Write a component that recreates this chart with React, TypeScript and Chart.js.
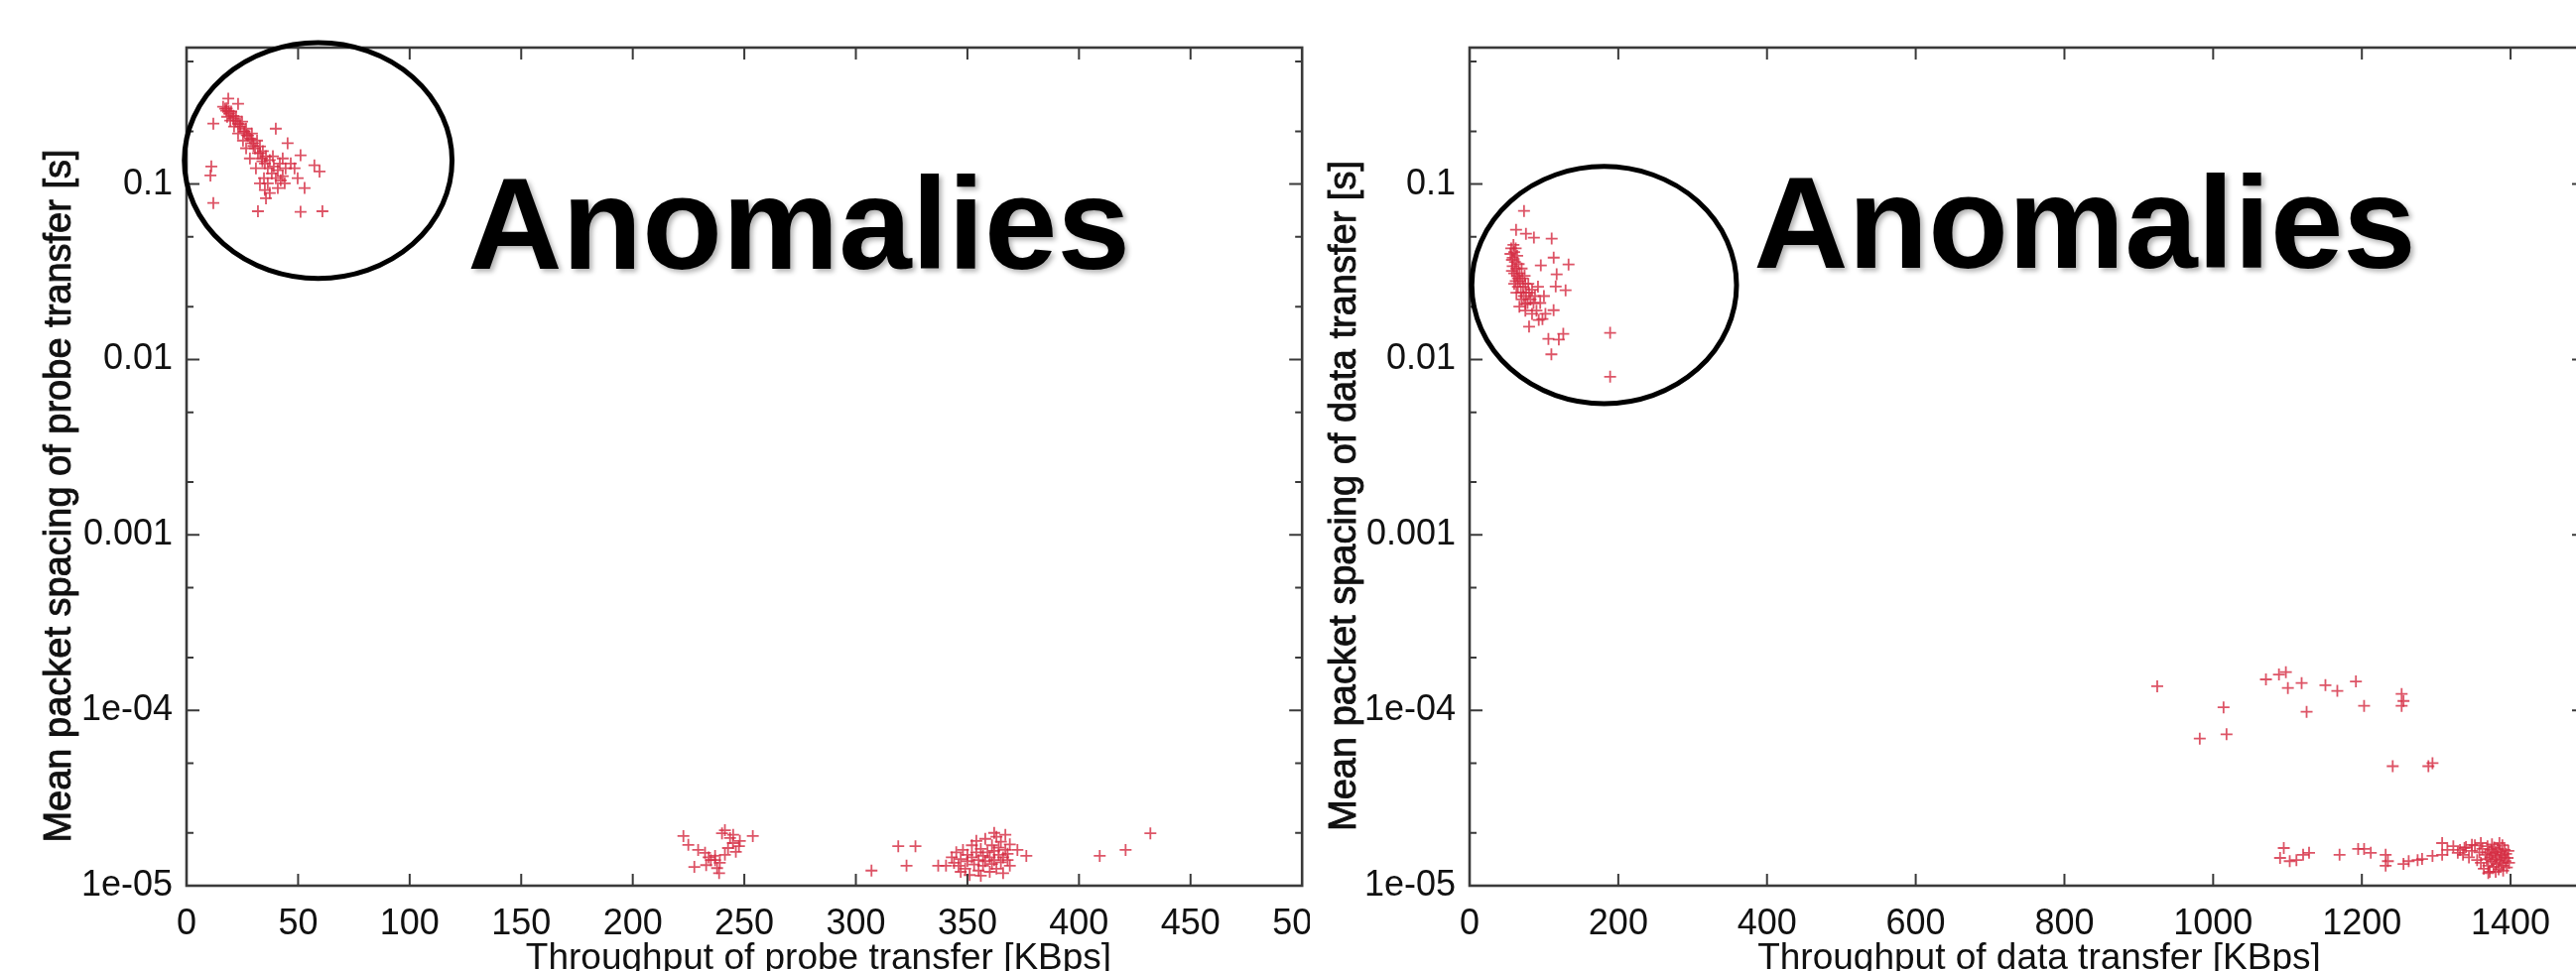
import React, { useEffect, useRef } from 'react';
import { Chart, registerables } from 'chart.js';

Chart.register(...registerables);

const FONT = '"Liberation Sans", Arial, Helvetica, sans-serif';

// ---------- tick values / labels ----------
const probeXTicks = [0, 50, 100, 150, 200, 250, 300, 350, 400, 450, 500];
const dataXTicks = [0, 200, 400, 600, 800, 1000, 1200, 1400];
const yMajorTicks = [1e-5, 1e-4, 1e-3, 1e-2, 1e-1];
const yTickLabels = ['1e-05', '1e-04', '0.001', '0.01', '0.1'];
const yMinorTicks = [2e-5, 5e-5, 2e-4, 5e-4, 2e-3, 5e-3, 0.02, 0.05, 0.2, 0.5];

// ---------- probe transfer (left) ----------
const probeAnomalies: [number, number][] = [
  [18.7, 0.307], [23.1, 0.287], [12, 0.221], [17.3, 0.269], [40, 0.207], [45.3, 0.171], [51.1, 0.146],
  [57.3, 0.128], [59.6, 0.118], [11.1, 0.126], [10.7, 0.112], [12, 0.078], [32, 0.07], [51.1, 0.0695],
  [60.9, 0.07], [35.1, 0.0925], [42.2, 0.105], [49.8, 0.108], [52.9, 0.095],
  [16.4, 0.276], [17.8, 0.262], [19.1, 0.252], [20, 0.259], [20.9, 0.236], [22.2, 0.242], [23.1, 0.221],
  [24, 0.213], [24.9, 0.227], [25.8, 0.199], [26.7, 0.207], [27.6, 0.189], [28.4, 0.182], [29.3, 0.194],
  [29.8, 0.171], [30.7, 0.16], [31.6, 0.177], [32, 0.15], [32.9, 0.164], [33.8, 0.14], [34.2, 0.154],
  [35.1, 0.131], [35.6, 0.144], [36.4, 0.123], [37.3, 0.137], [38.2, 0.115], [39.1, 0.126], [40, 0.108],
  [40.9, 0.12], [41.8, 0.131], [43.1, 0.111], [44.4, 0.123], [32.9, 0.101], [34.7, 0.108], [36.4, 0.101],
  [31.1, 0.123], [28.4, 0.14], [26.7, 0.16], [25.3, 0.177], [23.1, 0.194], [21.3, 0.213], [19.6, 0.23],
  [18.2, 0.242], [38.7, 0.144], [43.1, 0.14], [46.7, 0.131], [48.4, 0.123], [44, 0.101], [40.9, 0.095],
  [37.3, 0.089], [35.6, 0.083], [18, 0.27], [19, 0.26], [21, 0.245], [22, 0.23], [24, 0.22], [26, 0.2],
  [27, 0.19], [29, 0.18], [30, 0.165], [33, 0.15], [34, 0.135],
];
const probeCluster240: [number, number][] = [
  [222.7, 1.92e-5], [224.9, 1.71e-5], [229.3, 1.6e-5], [232.4, 1.54e-5], [235, 1.4e-5], [236.9, 1.4e-5],
  [227.6, 1.28e-5], [232.9, 1.31e-5], [237.8, 1.26e-5], [238.7, 1.18e-5], [240, 1.99e-5], [241.3, 2.07e-5],
  [243.6, 1.87e-5], [244.9, 1.75e-5], [242.7, 1.64e-5], [247.6, 1.68e-5], [246.2, 1.56e-5], [253.8, 1.92e-5],
  [236.9, 1.48e-5], [241.3, 1.5e-5], [239, 1.35e-5], [234, 1.45e-5], [245, 1.95e-5], [248, 1.8e-5],
];
const probeCluster360: [number, number][] = [
  [307, 1.22e-5], [319, 1.68e-5], [326.7, 1.68e-5], [322.7, 1.3e-5], [336.9, 1.3e-5], [340.4, 1.3e-5],
  [372.4, 1.6e-5], [376.4, 1.48e-5], [409.3, 1.48e-5], [420.9, 1.6e-5], [432, 1.99e-5],
  [343, 1.45e-5], [344, 1.35e-5], [345, 1.55e-5], [346, 1.3e-5], [347, 1.42e-5], [348, 1.6e-5], [349, 1.25e-5],
  [350, 1.5e-5], [350, 1.38e-5], [351, 1.15e-5], [352, 1.45e-5], [352, 1.7e-5], [353, 1.32e-5], [354, 1.55e-5],
  [355, 1.4e-5], [355, 1.22e-5], [356, 1.62e-5], [357, 1.48e-5], [357, 1.3e-5], [358, 1.85e-5], [358, 1.38e-5],
  [359, 1.55e-5], [360, 1.2e-5], [360, 1.45e-5], [361, 1.7e-5], [361, 1.33e-5], [362, 1.58e-5], [362, 1.4e-5],
  [363, 1.9e-5], [363, 1.25e-5], [364, 1.5e-5], [364, 1.65e-5], [365, 1.36e-5], [365, 1.78e-5], [366, 1.45e-5],
  [366, 1.18e-5], [367, 1.6e-5], [367, 1.95e-5], [368, 1.4e-5], [368, 1.52e-5], [369, 1.72e-5], [369, 1.3e-5],
  [354, 1.8e-5], [347, 1.2e-5], [362, 2.0e-5], [356, 1.14e-5],
];

// ---------- data transfer (right) ----------
const dataAnomalies: [number, number][] = [
  [73.2, 0.0703], [62.5, 0.0549], [75.8, 0.0521], [86.5, 0.0495], [110.4, 0.0489], [113.1, 0.0381],
  [133.1, 0.0348], [117.1, 0.0306], [95.8, 0.0344], [115.8, 0.0261], [129.1, 0.0248], [189, 0.0142],
  [189, 0.00798], [80, 0.0154], [106, 0.0131], [120, 0.013], [126, 0.014], [110, 0.0107], [102, 0.0182],
  [93, 0.0168], [113, 0.0191], [84, 0.0182], [75, 0.0207],
  [55, 0.04], [57, 0.037], [58, 0.034], [60, 0.041], [60, 0.031], [61, 0.036], [62, 0.028], [63, 0.033],
  [64, 0.039], [64, 0.03], [65, 0.026], [66, 0.035], [67, 0.031], [68, 0.028], [69, 0.024], [70, 0.033],
  [71, 0.029], [72, 0.026], [73, 0.023], [74, 0.03], [75, 0.027], [76, 0.024], [78, 0.021], [79, 0.027],
  [80, 0.024], [82, 0.022], [84, 0.025], [86, 0.021], [88, 0.023], [56, 0.043], [59, 0.045], [62, 0.043],
  [58, 0.038], [57, 0.032], [60, 0.027], [65, 0.029], [70, 0.022], [63, 0.024], [67, 0.02], [75, 0.019],
  [90, 0.019], [95, 0.021], [100, 0.023], [92, 0.026], [98, 0.017],
];
const dataMid: [number, number][] = [
  [924.8, 1.37e-4], [1071, 1.5e-4], [1088.5, 1.6e-4], [1097.8, 1.65e-4], [1100.5, 1.34e-4], [1119, 1.43e-4],
  [1151, 1.39e-4], [1167, 1.29e-4], [1192, 1.46e-4], [1203, 1.06e-4], [1125.7, 9.8e-5], [1014, 1.04e-4],
  [982, 6.9e-5], [1018, 7.3e-5], [1253.5, 1.24e-4], [1256, 1.13e-4], [1253.5, 1.06e-4], [1241.5, 4.8e-5],
  [1295, 5.0e-5], [1289.5, 4.8e-5],
];
const dataBottom: [number, number][] = [
  [1095, 1.64e-5], [1090, 1.44e-5], [1103, 1.38e-5], [1112, 1.4e-5], [1121, 1.5e-5], [1129, 1.54e-5],
  [1170, 1.5e-5], [1195, 1.62e-5], [1203, 1.62e-5], [1212, 1.54e-5], [1232, 1.5e-5], [1235, 1.38e-5],
  [1232, 1.3e-5], [1256, 1.33e-5], [1263, 1.38e-5], [1275, 1.4e-5], [1281, 1.42e-5], [1295, 1.48e-5],
  [1308, 1.75e-5], [1308, 1.5e-5], [1315, 1.6e-5], [1323, 1.68e-5], [1329, 1.54e-5], [1338, 1.64e-5],
  [1348, 1.71e-5],
  [1332, 1.6e-5], [1336, 1.5e-5], [1340, 1.66e-5], [1344, 1.45e-5], [1348, 1.58e-5], [1352, 1.7e-5],
  [1355, 1.4e-5], [1358, 1.55e-5], [1360, 1.35e-5], [1362, 1.62e-5], [1364, 1.25e-5], [1366, 1.5e-5],
  [1368, 1.42e-5], [1369, 1.68e-5], [1370, 1.3e-5], [1371, 1.55e-5], [1372, 1.2e-5], [1373, 1.45e-5],
  [1374, 1.6e-5], [1375, 1.38e-5], [1376, 1.52e-5], [1377, 1.28e-5], [1378, 1.65e-5], [1379, 1.42e-5],
  [1380, 1.55e-5], [1381, 1.33e-5], [1382, 1.48e-5], [1383, 1.62e-5], [1384, 1.24e-5], [1385, 1.4e-5],
  [1386, 1.56e-5], [1387, 1.35e-5], [1388, 1.5e-5], [1389, 1.7e-5], [1390, 1.3e-5], [1391, 1.45e-5],
  [1392, 1.6e-5], [1393, 1.38e-5], [1394, 1.52e-5], [1395, 1.27e-5], [1396, 1.44e-5], [1397, 1.58e-5],
  [1398, 1.35e-5], [1380, 1.2e-5], [1370, 1.18e-5], [1385, 1.75e-5], [1375, 1.72e-5], [1360, 1.75e-5],
  [1390, 1.22e-5],
];

const MARK_COLOR = 'rgba(214, 46, 68, 0.82)';

const matlabFrame = {
  id: 'matlabFrame',
  afterDraw(chart: any, _args: any, opts: any) {
    const { ctx, chartArea: a, scales } = chart;
    const xs = scales.x;
    const ys = scales.y;
    ctx.save();
    ctx.strokeStyle = '#3a3a3a';
    ctx.lineWidth = 2;
    ctx.beginPath();
    for (const v of opts.xTicks) {
      const px = xs.getPixelForValue(v);
      if (px <= a.left + 2 || px >= a.right - 2) continue;
      ctx.moveTo(px, a.bottom); ctx.lineTo(px, a.bottom - 12);
      ctx.moveTo(px, a.top); ctx.lineTo(px, a.top + 12);
    }
    const yTick = (v: number, len: number) => {
      const py = ys.getPixelForValue(v);
      if (py < a.top + 1 || py > a.bottom - 1) return;
      ctx.moveTo(a.left, py); ctx.lineTo(a.left + len, py);
      ctx.moveTo(a.right, py); ctx.lineTo(a.right - len, py);
    };
    yMajorTicks.forEach((v) => yTick(v, 13));
    yMinorTicks.forEach((v) => yTick(v, 7));
    ctx.stroke();
    ctx.lineWidth = 2.6;
    ctx.strokeRect(a.left, a.top, a.right - a.left, a.bottom - a.top);

    // axis titles (Matlab-style placement)
    ctx.save();
    ctx.translate(opts.yTitle.x, opts.yTitle.y);
    ctx.rotate(-Math.PI / 2);
    ctx.font = `38px ${FONT}`;
    ctx.fillStyle = '#111';
    ctx.strokeStyle = '#111';
    ctx.lineWidth = 0.9;
    ctx.textAlign = 'center';
    ctx.textBaseline = 'middle';
    ctx.fillText(opts.yTitle.text, 0, 0);
    ctx.strokeText(opts.yTitle.text, 0, 0);
    ctx.restore();

    ctx.save();
    ctx.font = `37px ${FONT}`;
    ctx.fillStyle = '#111';
    ctx.textAlign = 'center';
    ctx.textBaseline = 'middle';
    ctx.fillText(opts.xTitle.text, opts.xTitle.x, opts.xTitle.y);
    ctx.restore();

    // ellipse annotation
    const e = opts.ellipse;
    const ex0 = xs.getPixelForValue(e.x0);
    const ex1 = xs.getPixelForValue(e.x1);
    const ey0 = ys.getPixelForValue(e.yTop);
    const ey1 = ys.getPixelForValue(e.yBottom);
    ctx.beginPath();
    ctx.ellipse((ex0 + ex1) / 2, (ey0 + ey1) / 2, (ex1 - ex0) / 2, (ey1 - ey0) / 2, 0, 0, Math.PI * 2);
    ctx.lineWidth = 5;
    ctx.strokeStyle = '#000';
    ctx.stroke();

    // label
    const t = opts.label;
    ctx.font = `bold 132px ${FONT}`;
    ctx.fillStyle = '#000';
    ctx.textAlign = 'left';
    ctx.textBaseline = 'alphabetic';
    ctx.shadowColor = 'rgba(0,0,0,0.3)';
    ctx.shadowBlur = 5;
    ctx.shadowOffsetX = 3;
    ctx.shadowOffsetY = 3;
    ctx.fillText(t.text, xs.getPixelForValue(t.x), ys.getPixelForValue(t.y));
    ctx.restore();
  },
};

type PanelProps = {
  left: number;
  width: number;
  height: number;
  yWidth: number;
  padRight: number;
  yTitleX: number;
  xTitleX: number;
  xMax: number;
  xTicks: number[];
  xTitle: string;
  yTitle: string;
  series: [number, number][][];
  ellipse: { x0: number; x1: number; yTop: number; yBottom: number };
  label: { text: string; x: number; y: number };
};

function Panel(p: PanelProps) {
  const ref = useRef<HTMLCanvasElement | null>(null);
  useEffect(() => {
    if (!ref.current) return;
    const axisFont = { family: FONT, size: 36 };
    const chart = new Chart(ref.current, {
      type: 'scatter',
      data: {
        datasets: p.series.map((s) => ({
          data: s.map(([x, y]) => ({ x, y })),
          pointStyle: 'cross',
          pointRadius: 6,
          pointBorderWidth: 1.8,
          borderColor: MARK_COLOR,
          backgroundColor: MARK_COLOR,
          showLine: false,
        })),
      },
      options: {
        responsive: false,
        maintainAspectRatio: false,
        animation: false,
        events: [],
        layout: { padding: { left: 0, top: 48, right: p.padRight, bottom: 0 } },
        plugins: {
          legend: { display: false },
          tooltip: { enabled: false },
          matlabFrame: {
            xTicks: p.xTicks,
            ellipse: p.ellipse,
            label: p.label,
            yTitle: { text: p.yTitle, x: p.yTitleX, y: 500 },
            xTitle: { text: p.xTitle, x: p.xTitleX, y: 967 },
          },
        } as any,
        scales: {
          x: {
            type: 'linear',
            min: 0,
            max: p.xMax,
            grid: { display: false },
            border: { display: false },
            ticks: {
              font: axisFont,
              color: '#111',
              padding: 9,
              maxRotation: 0,
              autoSkip: false,
              callback: (v: any) => String(v),
            },
            afterBuildTicks: (s: any) => {
              s.ticks = p.xTicks.map((v) => ({ value: v }));
            },
            afterFit: (s: any) => {
              s.height = p.height - 893;
              s.paddingLeft = 0;
              s.paddingRight = 0;
            },
            title: { display: false },
          },
          y: {
            type: 'logarithmic',
            min: 1e-5,
            max: 0.6,
            grid: { display: false },
            border: { display: false },
            ticks: {
              font: axisFont,
              color: '#111',
              padding: 6,
              autoSkip: false,
              callback: (_v: any, i: number) => yTickLabels[i],
            },
            afterBuildTicks: (s: any) => {
              s.ticks = yMajorTicks.map((v) => ({ value: v }));
            },
            afterFit: (s: any) => {
              s.width = p.yWidth;
              s.paddingTop = 0;
              s.paddingBottom = 0;
            },
            title: { display: false },
          },
        },
      } as any,
      plugins: [matlabFrame],
    });
    return () => chart.destroy();
  }, []);
  return (
    <canvas
      ref={ref}
      width={p.width}
      height={p.height}
      style={{ position: 'absolute', left: p.left, top: 0, background: '#fff' }}
    />
  );
}

export default function App() {
  return (
    <div
      style={{
        position: 'fixed',
        left: 0,
        top: 0,
        width: 2596,
        height: 979,
        overflow: 'hidden',
        background: '#fff',
      }}
    >
      <Panel
        left={0}
        width={1320}
        height={1000}
        yWidth={188}
        padRight={7}
        yTitleX={61}
        xTitleX={825}
        xMax={500}
        xTicks={probeXTicks}
        xTitle="Throughput of probe transfer [KBps]"
        yTitle="Mean packet spacing of probe transfer [s]"
        series={[probeAnomalies, probeCluster240, probeCluster360]}
        ellipse={{ x0: -1, x1: 119, yTop: 0.64, yBottom: 0.029 }}
        label={{ text: 'Anomalies', x: 126, y: 0.033 }}
      />
      <Panel
        left={1320}
        width={1300}
        height={1000}
        yWidth={161}
        padRight={15}
        yTitleX={36}
        xTitleX={735}
        xMax={1500}
        xTicks={dataXTicks}
        xTitle="Throughput of data transfer [KBps]"
        yTitle="Mean packet spacing of data transfer [s]"
        series={[dataAnomalies, dataMid, dataBottom]}
        ellipse={{ x0: 3, x1: 359, yTop: 0.126, yBottom: 0.0056 }}
        label={{ text: 'Anomalies', x: 382, y: 0.0335 }}
      />
    </div>
  );
}
